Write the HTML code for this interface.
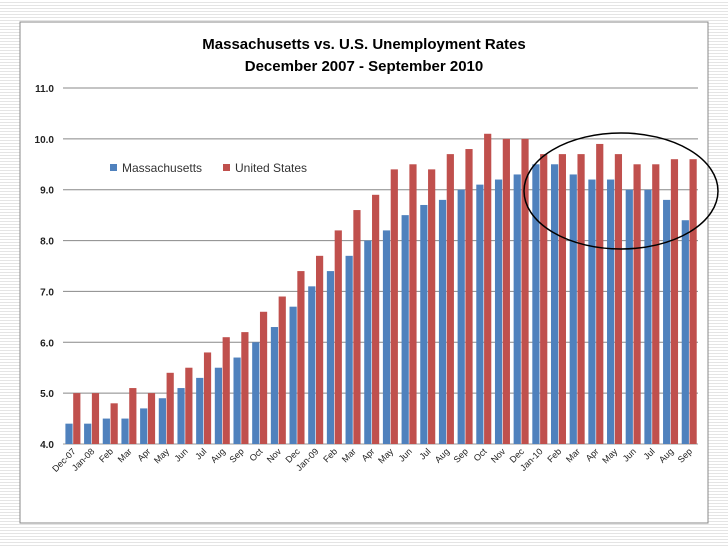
<!DOCTYPE html>
<html><head><meta charset="utf-8"><style>
body{margin:0;width:728px;height:546px;overflow:hidden;background:repeating-linear-gradient(#fff 0,#fff 2px,#e4e4e4 2px,#e4e4e4 3px);font-family:"Liberation Sans",sans-serif}
</style></head><body>
<svg width="728" height="546" style="position:absolute;left:0;top:0">
<rect x="20" y="22" width="688" height="501" fill="#fff" stroke="#888"/>
<text x="364" y="49" text-anchor="middle" font-weight="bold" font-size="15">Massachusetts vs. U.S. Unemployment Rates</text>
<text x="364" y="71" text-anchor="middle" font-weight="bold" font-size="15">December 2007 - September 2010</text>
<g id="grid"></g><g id="bars"></g><g id="xl"></g>
<g>
<rect x="110" y="164" width="7" height="7" fill="#4f81bd"/>
<text x="122" y="172" font-size="12" fill="#333">Massachusetts</text>
<rect x="223" y="164" width="7" height="7" fill="#c0504d"/>
<text x="235" y="172" font-size="12" fill="#333">United States</text>
</g>
<ellipse cx="621" cy="191" rx="97" ry="58" fill="none" stroke="#000" stroke-width="1.5"/>
</svg>
<script>
const categories=["Dec-07","Jan-08","Feb","Mar","Apr","May","Jun","Jul","Aug","Sep","Oct","Nov","Dec","Jan-09","Feb","Mar","Apr","May","Jun","Jul","Aug","Sep","Oct","Nov","Dec","Jan-10","Feb","Mar","Apr","May","Jun","Jul","Aug","Sep"];
const maValues=[4.4,4.4,4.5,4.5,4.7,4.9,5.1,5.3,5.5,5.7,6.0,6.3,6.7,7.1,7.4,7.7,8.0,8.2,8.5,8.7,8.8,9.0,9.1,9.2,9.3,9.5,9.5,9.3,9.2,9.2,9.0,9.0,8.8,8.4];
const usValues=[5.0,5.0,4.8,5.1,5.0,5.4,5.5,5.8,6.1,6.2,6.6,6.9,7.4,7.7,8.2,8.6,8.9,9.4,9.5,9.4,9.7,9.8,10.1,10.0,10.0,9.7,9.7,9.7,9.9,9.7,9.5,9.5,9.6,9.6];
const yTicks=[4,5,6,7,8,9,10,11];
const NS="http://www.w3.org/2000/svg";
const L=63,R=698,T=88,B=444,ymin=4,ymax=11;
const y=v=>B-(v-ymin)/(ymax-ymin)*(B-T);
const cw=(R-L)/categories.length;
const x=i=>L+i*cw;
function mk(t,a,p){const e=document.createElementNS(NS,t);for(const k in a)e.setAttribute(k,a[k]);document.getElementById(p).appendChild(e);return e;}
yTicks.forEach(v=>{
 const l=mk('line',{x1:L,x2:R,y1:y(v),y2:y(v),stroke:v===4?'#999':'#888','stroke-width':1},'grid');
 
 
 const t=mk('text',{x:54,y:y(v)+4,'text-anchor':'end','font-size':10,'font-weight':'bold',fill:'#222'},'grid');
 t.textContent=v.toFixed(1);
 
 
});
categories.forEach((c,i)=>{
 const bw=7.2;
 const b1=mk('rect',{x:x(i)+2.4,y:y(maValues[i]),width:bw,height:B-y(maValues[i]),fill:'#4f81bd'},'bars');
 
 
 const b2=mk('rect',{x:x(i)+2.4+bw+0.6,y:y(usValues[i]),width:bw,height:B-y(usValues[i]),fill:'#c0504d'},'bars');
 
 
 const cx=x(i)+cw/2+4,cy=452;
 const t=mk('text',{x:cx,y:cy,'text-anchor':'end','font-size':9,fill:'#222',transform:`rotate(-45 ${cx} ${cy})`},'xl');
 t.textContent=c;
 
 
});
</script>
</body></html>
